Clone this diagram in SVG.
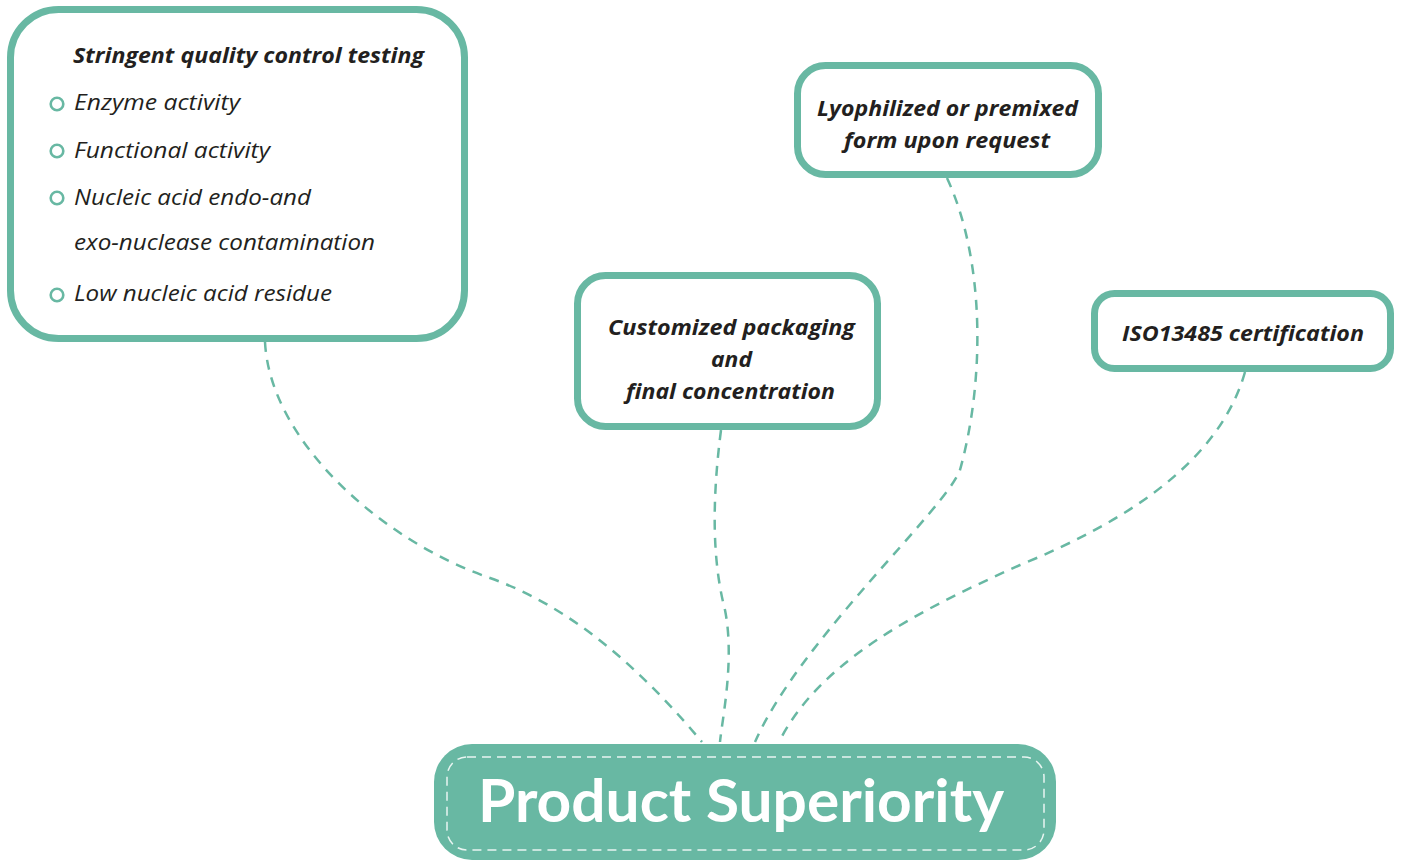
<svg xmlns="http://www.w3.org/2000/svg" width="1402" height="863" viewBox="0 0 1402 863">
<style>
.box{fill:#fff;stroke:#68B8A3;stroke-width:7}
.conn{fill:none;stroke:#68B8A3;stroke-width:2.5;stroke-dasharray:10 8}
.t{font-family:"Open Sans",Lato,sans-serif;font-style:italic;fill:#231F20;font-size:21.5px}
.b{font-weight:bold}
.bul{fill:none;stroke:#68B8A3;stroke-width:2.6}
</style>
<rect width="1402" height="863" fill="#fff"/>
<g id="connectors">
<path class="conn" d="M265,342 C270,440 380,540 490,578 C580,610 650,680 702,742"/>
<path class="conn" d="M721,430 C712,500 712,560 725,610 C735,660 722,720 720,742"/>
<path class="conn" d="M947,178 C985,260 985,380 960,470 C945,510 800,640 755,742"/>
<path class="conn" d="M1245,372 C1220,460 1130,520 1020,565 C920,610 820,660 779,742"/>
</g>
<g id="node-qc">
<rect class="box" x="10.5" y="9.5" width="454" height="329" rx="48"/>
<text class="t b" x="73" y="63" textLength="351" lengthAdjust="spacingAndGlyphs">Stringent quality control testing</text>
<circle class="bul" cx="57" cy="104" r="6.3"/>
<circle class="bul" cx="57" cy="151" r="6.3"/>
<circle class="bul" cx="57" cy="198" r="6.3"/>
<circle class="bul" cx="57" cy="295" r="6.3"/>
<text class="t" x="74" y="110" textLength="166" lengthAdjust="spacingAndGlyphs">Enzyme activity</text>
<text class="t" x="74" y="158" textLength="196" lengthAdjust="spacingAndGlyphs">Functional activity</text>
<text class="t" x="74" y="205" textLength="237" lengthAdjust="spacingAndGlyphs">Nucleic acid endo-and</text>
<text class="t" x="74" y="250" textLength="301" lengthAdjust="spacingAndGlyphs">exo-nuclease contamination</text>
<text class="t" x="74" y="301" textLength="258" lengthAdjust="spacingAndGlyphs">Low nucleic acid residue</text>
</g>
<g id="node-packaging">
<rect class="box" x="577.5" y="275.5" width="300" height="151" rx="28"/>
<text class="t b" x="608" y="335" textLength="247" lengthAdjust="spacingAndGlyphs">Customized packaging</text>
<text class="t b" x="711" y="367" textLength="41" lengthAdjust="spacingAndGlyphs">and</text>
<text class="t b" x="626" y="399" textLength="209" lengthAdjust="spacingAndGlyphs">final concentration</text>
</g>
<g id="node-lyophilized">
<rect class="box" x="797.5" y="65.5" width="301" height="109" rx="28"/>
<text class="t b" x="817" y="116" textLength="261" lengthAdjust="spacingAndGlyphs">Lyophilized or premixed</text>
<text class="t b" x="844" y="148" textLength="206" lengthAdjust="spacingAndGlyphs">form upon request</text>
</g>
<g id="node-iso">
<rect class="box" x="1094.5" y="293.5" width="296" height="75" rx="20"/>
<text class="t b" x="1122" y="341" textLength="242" lengthAdjust="spacingAndGlyphs">ISO13485 certification</text>
</g>
<g id="node-product">
<rect x="434" y="744" width="622" height="116" rx="38" fill="#68B8A3"/>
<rect x="447" y="757" width="597" height="93" rx="20" fill="none" stroke="#fff" stroke-width="1.5" stroke-dasharray="9 6" opacity="0.85"/>
<text x="478" y="822" font-family="Lato,'Open Sans',sans-serif" font-weight="bold" font-size="59" fill="#fff" textLength="526" lengthAdjust="spacingAndGlyphs">Product Superiority</text>
</g>
</svg>
